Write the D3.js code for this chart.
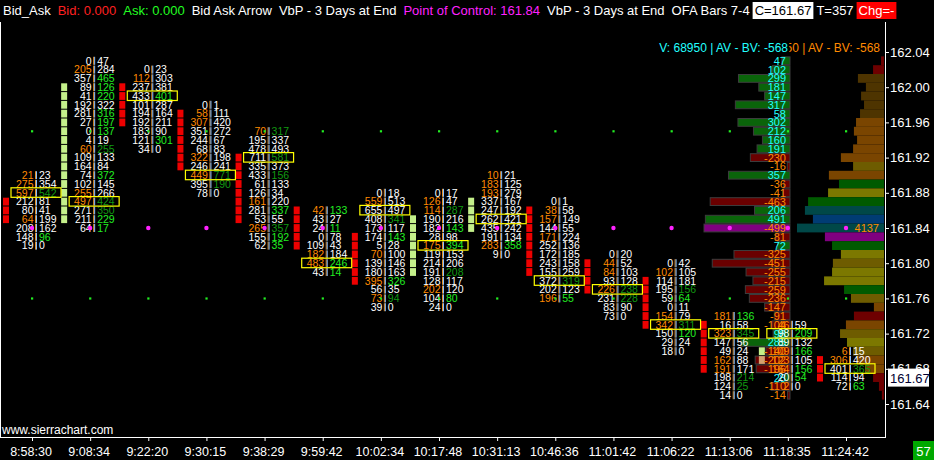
<!DOCTYPE html>
<html><head><meta charset="utf-8">
<script src="https://cdn.jsdelivr.net/npm/d3@7"></script>
<style>body{margin:0;background:#000;overflow:hidden}svg{display:block}</style>
</head><body><svg id="c" width="934" height="460"></svg>
<script>
// ---------------- DATA ----------------
const times = ["8:58:30","9:08:34","9:22:20","9:30:15","9:38:29","9:59:42","10:02:34","10:17:48","10:31:13","10:46:36","11:01:42","11:06:22","11:13:06","11:18:35","11:24:42"];
const priceTicks = [162.04,162.00,161.96,161.92,161.88,161.84,161.80,161.76,161.72,161.68,161.64];
const lastPrice = 161.67;
const vaHigh = 161.95, pocPrice = 161.84, vaLow = 161.76;

// footprint: price of first (top) row per bar
const barTop = [161.90,162.03,162.02,161.98,161.95,161.86,161.88,161.88,161.90,161.87,161.81,161.80,161.74,161.73,161.70];
const barBid = [
 [21,275,597,212,80,64,208,148,19],
 [0,205,357,89,41,192,281,27,0,4,60,109,164,74,102,255,497,271,211,64],
 [0,112,237,433,101,194,192,183,121,34],
 [0,58,307,351,244,68,322,246,449,395,78],
 [70,195,478,711,335,433,61,126,161,281,53,265,155,62],
 [42,43,24,0,109,182,483,43],
 [0,559,655,408,173,174,5,70,139,180,395,56,73,39],
 [0,126,114,190,182,28,175,119,214,191,128,202,104,24],
 [10,183,193,337,247,262,435,191,283,9],
 [0,38,157,144,171,252,172,243,155,372,202,196],
 [0,44,84,93,226,231,83,73],
 [0,102,114,195,59,0,154,342,150,29,18],
 [181,16,323,147,49,162,191,198,124,14],
 [46,98,89,109,123,164,20,2],
 [6,306,401,114,72]
];
const barAsk = [
 [23,354,542,81,41,199,162,96,0],
 [47,284,465,126,220,322,316,197,137,19,255,133,84,372,145,266,424,350,229,17],
 [23,303,381,401,287,164,211,90,301,0],
 [1,111,420,272,67,83,198,241,771,190,0],
 [317,337,493,581,373,156,133,34,220,337,55,357,192,35],
 [133,27,11,78,43,184,246,14],
 [18,513,497,341,117,143,28,100,146,163,326,35,94,0],
 [17,47,287,216,143,98,394,153,206,208,117,120,80,0],
 [21,125,279,167,192,421,242,134,358,0],
 [1,58,149,55,224,136,185,158,259,319,123,55],
 [20,52,103,128,238,228,90,0],
 [42,105,181,156,64,11,79,311,120,24,0],
 [136,58,345,56,24,88,171,214,25,0],
 [59,209,132,166,105,156,54,0],
 [15,420,365,94,63]
];
// text class codes: w = normal, o = bid heavy, g = ask heavy, d = ask (dim)
const barBidCls = ["ooowwowww","wowwwwwwwwowwwwoowww","wowwwwwwww","woowwwowoww","owwwwwwwowwoww","owwwwoow","wowwwwwowwowow","woowwwowwwwoww","ooowwwwwow","woowowwwwwwo","woowowww","wowwwwoowww","owowwoowww","owwooowo","oowww"];
const barAskCls = ["wwdwwwwgw","wwgggwgggwdwwgwwddgg","wwwgwwwwgw","wwwwwwwwddw","dwwdwdwwwgwdgg","gwgwwwgg","wwwdwgwwwwgwdw","wwdwgwgwwdwwgw","wwwwwwwwgw","wwwwwwwwwdwg","wwwwddww","wwwdgwwdgww","gwdwwwwddw","wgwgwggw","wwdwg"];
const barPoc = [161.88,161.87,161.99,161.90,161.92,161.80,161.86,161.82,161.85,161.78,161.77,161.73,161.72,161.72,161.68];
// bid/ask arrow blocks: [bar, top price, count, kind]
const arrows = [
 [0,161.87,3,"down"],[1,162.00,16,"up"],[2,162.00,5,"down"],[3,161.97,7,"down"],[4,161.92,8,"down"],
 [5,161.86,5,"down"],[6,161.83,6,"down"],[7,161.85,7,"up"],[8,161.87,4,"up"],[9,161.86,8,"down"],
 [10,161.80,4,"down"],[11,161.78,6,"down"],[12,161.73,6,"down"],[13,161.70,1,"up"],[13,161.69,1,"mid"],[14,161.69,3,"down"]
];

// Volume profile (3 days) : top price 162.03, one value per 0.01 downwards
const vbpTop = 162.03;
const deltaVals = [47,102,299,181,147,317,58,302,212,160,191,-230,-16,357,-36,-41,-463,206,491,-499,-81,72,-325,-451,-255,-215,-259,-236,-147,-91,-104,98,285,-140,-202,-196,28,-110,-14];
const volVals = [140,520,1240,860,1090,950,1140,1330,1430,1280,1470,2050,1470,2620,2140,2660,3610,3760,3380,4137,2810,2470,2050,2430,2470,2850,1900,1570,480,1430,1810,2090,1760,1470,1280,900,520,240,100];
const volCls = "rrbbbbboooooyogYgtutpgYyYYgyoroyYyoorrrr";
const totalVol = 68950, totalDelta = -568;
const headerTexts = ["Bid_Ask","Bid: 0.000","Ask: 0.000","Bid Ask Arrow","VbP - 3 Days at End","Point of Control: 161.84","VbP - 3 Days at End","OFA Bars 7-4"];
const barCount = 57;

// ---------------- STYLE ----------------
const FONT = "'Liberation Sans', Arial, sans-serif";
const txtCol = {w:"#ffffff", o:"#ff8a00", g:"#22ee22", d:"#119911"};
const arrowCol = {down:"#ee0000", up:"#c4f08a", mid:"#d4a070"};
const volCol = {r:"#6e0000", b:"#4e3400", o:"#7a4500", y:"#6e5c00", Y:"#7c7800", g:"#005a00", t:"#004848", u:"#003c74", p:"#800080"};
const headerCols = ["#ffffff","#ff2020","#22ff22","#ffffff","#ffffff","#ff22ff","#ffffff","#ffffff"];

// ---------------- CHART ----------------
const svg = d3.select("#c");
svg.append("rect").attr("width",934).attr("height",460).attr("fill","#000");

const y = d3.scaleLinear().domain([161.64,162.04]).range([404,52]);
const x = d3.scaleLinear().domain([0,times.length-1]).range([36,850]); // bar centre (separator)
const rowH = y(161.84) - y(161.85);
const priceAt = (top,j) => +(top - j*0.01).toFixed(2);

const plot = svg.append("g");

// right volume profile
const xV = d3.scaleLinear().domain([0,4137]).range([0,87]);
plot.selectAll("rect.vol").data(volVals).join("rect").attr("class","vol")
  .attr("x",d=>884-xV(d)).attr("width",d=>xV(d))
  .attr("y",(d,i)=>y(priceAt(vbpTop,i))-rowH/2).attr("height",rowH)
  .attr("fill",(d,i)=>volCol[volCls[i]]);
plot.append("text").attr("x",879).attr("y",y(pocPrice)+4).attr("text-anchor","end")
  .attr("font-family",FONT).attr("font-size",11).attr("fill","#ff8a00").text(volVals[19]);

// left delta profile
const xD = d3.scaleLinear().domain([0,499]).range([0,86]);
plot.selectAll("rect.del").data(deltaVals).join("rect").attr("class","del")
  .attr("x",d=>790-xD(Math.abs(d))).attr("width",d=>xD(Math.abs(d)))
  .attr("y",(d,i)=>y(priceAt(vbpTop,i))-rowH/2+0.5).attr("height",rowH-1)
  .attr("fill",(d,i)=>priceAt(vbpTop,i)===pocPrice?"#800080":(d>=0?"#0a640a":"#6a0000"))
  .attr("stroke","#3c3c3c").attr("stroke-width",1);

// arrows
arrows.forEach(([b,top,n,k])=>{
  for(let j=0;j<n;j++){
    plot.append("rect").attr("x",x(b)-33).attr("width",6)
      .attr("y",y(priceAt(top,j))-3.9).attr("height",7.8).attr("fill",arrowCol[k]);
  }
});

// delta labels
plot.selectAll("text.del").data(deltaVals).join("text").attr("class","del")
  .attr("x",786).attr("y",(d,i)=>y(priceAt(vbpTop,i))+4).attr("text-anchor","end")
  .attr("font-family",FONT).attr("font-size",11)
  .attr("fill",d=>d>=0?"#22ffff":"#ff8a00").text(d=>d);

// footprint
const fp = plot.append("g").attr("font-family",FONT).attr("font-size",10.5);
barTop.forEach((top,i)=>{
  const sx = x(i);
  barBid[i].forEach((b,j)=>{
    const p = priceAt(top,j), yy = y(p);
    fp.append("rect").attr("x",sx-1).attr("y",yy-4).attr("width",1).attr("height",8).attr("fill","#e0902a");
    fp.append("rect").attr("x",sx).attr("y",yy-4).attr("width",1).attr("height",8).attr("fill","#8cc0ff");
    fp.append("text").attr("x",sx-2.5).attr("y",yy+3.8).attr("text-anchor","end")
      .attr("fill",txtCol[barBidCls[i][j]]).text(b);
    fp.append("text").attr("x",sx+3).attr("y",yy+3.8)
      .attr("fill",txtCol[barAskCls[i][j]]).text(barAsk[i][j]);
  });
  fp.append("rect").attr("x",sx-25).attr("y",y(barPoc[i])-5).attr("width",50).attr("height",9.5)
    .attr("fill","none").attr("stroke","#ffff00").attr("stroke-width",1.2);
});

// VbP level dots
times.forEach((t,i)=>{
  const dx = x(i)-4;
  [vaHigh,vaLow].forEach(p=>plot.append("rect").attr("x",dx-1).attr("y",y(p)-1).attr("width",2.2).attr("height",2.2).attr("fill","#22ee22"));
  plot.append("circle").attr("cx",dx).attr("cy",y(pocPrice)).attr("r",2.2).attr("fill","#ff22ff");
});

// top-right study text
const tOrange = svg.append("text").attr("x",880).attr("y",52).attr("text-anchor","end")
  .attr("font-family",FONT).attr("font-size",12).attr("fill","#ff8a00")
  .text(`V: ${totalVol} | AV - BV: ${totalDelta}`);
const cyanG = svg.append("g");
const tCyan = cyanG.append("text").attr("x",788).attr("y",52).attr("text-anchor","end")
  .attr("font-family",FONT).attr("font-size",12).attr("fill","#22ffff")
  .text(`V: ${totalVol} | AV - BV: ${totalDelta}`);
const cb = tCyan.node().getBBox();
cyanG.insert("rect","text").attr("x",cb.x).attr("y",cb.y).attr("width",cb.width+1).attr("height",cb.height).attr("fill","#000");

// frame
svg.append("line").attr("x1",885.5).attr("x2",885.5).attr("y1",22).attr("y2",437.5).attr("stroke","#fff");
svg.append("line").attr("x1",0.5).attr("x2",0.5).attr("y1",22).attr("y2",437.5).attr("stroke","#fff");
svg.append("line").attr("x1",0).attr("x2",886).attr("y1",437.5).attr("y2",437.5).attr("stroke","#fff");

// y axis
const yAxis = svg.append("g").attr("font-family",FONT).attr("font-size",13);
priceTicks.forEach(p=>{
  yAxis.append("line").attr("x1",886).attr("x2",889).attr("y1",y(p)+0.5).attr("y2",y(p)+0.5).attr("stroke","#fff");
  yAxis.append("text").attr("x",890).attr("y",y(p)+4.5).attr("fill","#fff").text(p.toFixed(2));
});
yAxis.append("rect").attr("x",888).attr("y",y(lastPrice)-9).attr("width",41).attr("height",18).attr("fill","#fff");
yAxis.append("text").attr("x",890).attr("y",y(lastPrice)+5).attr("fill","#000030").text(lastPrice.toFixed(2));

// x axis
const xAxis = svg.append("g").attr("font-family",FONT).attr("font-size",12.5);
times.forEach((t,i)=>{
  xAxis.append("line").attr("x1",x(i)-3.5).attr("x2",x(i)-3.5).attr("y1",437).attr("y2",441).attr("stroke","#fff");
  xAxis.append("text").attr("x",x(i)-5).attr("y",456).attr("text-anchor","middle").attr("fill","#fff").text(t);
});
svg.append("text").attr("x",2).attr("y",434).attr("font-family",FONT).attr("font-size",12).attr("fill","#fff").text("www.sierrachart.com");
svg.append("rect").attr("x",913).attr("y",441).attr("width",21).attr("height",19).attr("fill","#00a800");
svg.append("text").attr("x",923.5).attr("y",456).attr("text-anchor","middle").attr("font-family",FONT).attr("font-size",13).attr("fill","#fff").text(barCount);

// header
const hdr = svg.append("g").attr("font-family",FONT).attr("font-size",13);
let hx = 3;
headerTexts.forEach((t,i)=>{
  const tx = hdr.append("text").attr("x",hx).attr("y",15).attr("fill",headerCols[i]).text(t);
  hx += tx.node().getComputedTextLength() + 7;
});
hx -= 4;
const cTxt = hdr.append("text").attr("x",hx+2).attr("y",15).attr("fill","#000").text("C=" + lastPrice.toFixed(2));
const cw = cTxt.node().getComputedTextLength();
hdr.insert("rect","text").attr("x",hx).attr("y",2).attr("width",cw+4).attr("height",17).attr("fill","#fff");
hx += cw + 7;
const tT = hdr.append("text").attr("x",hx).attr("y",15).attr("fill","#fff").text("T=357");
hx += tT.node().getComputedTextLength() + 3;
const chg = hdr.append("text").attr("x",hx+2).attr("y",15).attr("fill","#fff").text("Chg=-");
const chw = chg.node().getComputedTextLength();
hdr.insert("rect","text").attr("x",hx).attr("y",2).attr("width",Math.max(chw+4,885-hx)).attr("height",17).attr("fill","#ff0000");
</script></body></html>
